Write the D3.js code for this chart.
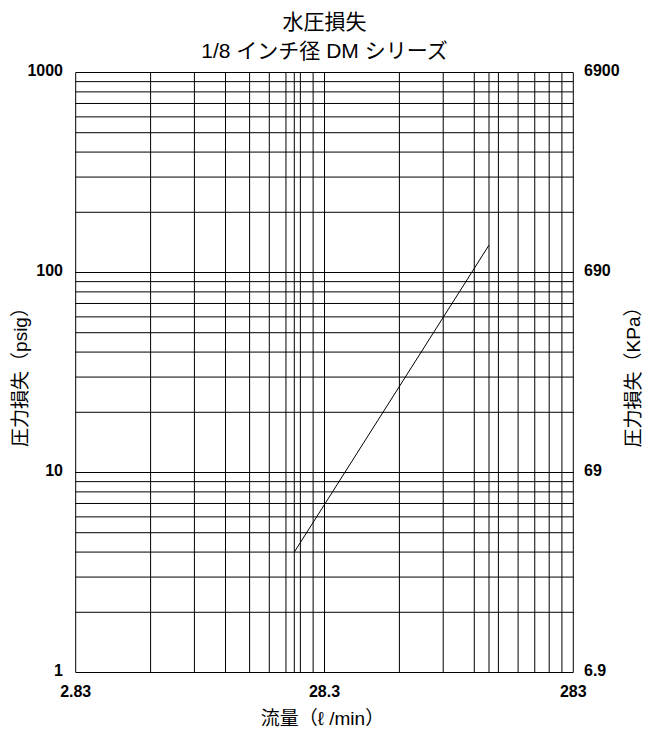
<!DOCTYPE html>
<html>
<head>
<meta charset="utf-8">
<script src="https://cdn.jsdelivr.net/npm/d3@7"></script>
<style>
  html, body { margin: 0; padding: 0; background: #fff; }
  svg text { font-family: "Liberation Sans", Arial, "Noto Sans CJK JP", sans-serif; }
</style>
</head>
<body>
<svg id="chart" width="659" height="729"></svg>
<script>
// ---- data ----
const flowLpm = [21.4, 129.7];        // l/min
const pressurePsig = [4, 137];        // psig
const xTickValues = [2.83, 28.3, 283];
const xTickLabels = ["2.83", "28.3", "283"];
const yTickValues = [1, 10, 100, 1000];
const yLeftLabels = ["1", "10", "100", "1000"];
const yRightLabels = ["6.9", "69", "690", "6900"];
const titleLines = ["水圧損失", "1/8 インチ径 DM シリーズ"];
const xTitle = "流量（ℓ /min）";
const yLeftTitle = "圧力損失（psig）";
const yRightTitle = "圧力損失（KPa）";

// ---- layout ----
const W = 659, H = 729;
const plot = { left: 75.7, right: 573.3, top: 72.5, bottom: 672.5 };
const svg = d3.select("#chart");

const x = d3.scaleLog().domain([2.83, 283]).range([plot.left, plot.right]);
const y = d3.scaleLog().domain([1, 1000]).range([plot.bottom, plot.top]);

// grid values: 1..10 multiples within each decade
const xGrid = [];
[2.83, 28.3].forEach(b => { for (let k = 1; k <= 10; k++) xGrid.push(b * k); });
flowLpm.forEach(v => xGrid.push(v)); // reference lines at curve ends
const yGrid = [];
[1, 10, 100].forEach(b => { for (let k = 1; k <= 10; k++) yGrid.push(b * k); });

const g = svg.append("g");
g.selectAll("line.vg").data(xGrid).join("line")
  .attr("x1", d => x(d)).attr("x2", d => x(d))
  .attr("y1", y(1)).attr("y2", y(1000))
  .attr("stroke", "#000").attr("stroke-width", 1);
g.selectAll("line.hg").data(yGrid).join("line")
  .attr("y1", d => y(d)).attr("y2", d => y(d))
  .attr("x1", x(2.83)).attr("x2", x(283))
  .attr("stroke", "#000").attr("stroke-width", 1);

// curve
const pts = flowLpm.map((f, i) => [f, pressurePsig[i]]);
svg.append("path").datum(pts)
  .attr("fill", "none").attr("stroke", "#000").attr("stroke-width", 1)
  .attr("d", d3.line().x(d => x(d[0])).y(d => y(d[1])));

// tick labels
svg.selectAll("text.yl").data(yTickValues).join("text")
  .attr("x", 63).attr("y", d => y(d) + 3)
  .attr("text-anchor", "end").attr("font-size", 16).attr("font-weight", "bold")
  .text((d, i) => yLeftLabels[i]);
svg.selectAll("text.yr").data(yTickValues).join("text")
  .attr("x", 584).attr("y", d => y(d) + 3)
  .attr("text-anchor", "start").attr("font-size", 16).attr("font-weight", "bold")
  .text((d, i) => yRightLabels[i]);
svg.selectAll("text.xl").data(xTickValues).join("text")
  .attr("x", d => x(d)).attr("y", 697)
  .attr("text-anchor", "middle").attr("font-size", 16).attr("font-weight", "bold")
  .text((d, i) => xTickLabels[i]);

// titles
const cx = (plot.left + plot.right) / 2;
svg.selectAll("text.title").data(titleLines).join("text")
  .attr("x", cx).attr("y", (d, i) => 29 + i * 29)
  .attr("text-anchor", "middle").attr("font-size", 21)
  .text(d => d);
svg.append("text")
  .attr("x", cx - 2).attr("y", 725)
  .attr("text-anchor", "middle").attr("font-size", 19)
  .text(xTitle);
const cy = (plot.top + plot.bottom) / 2;
svg.append("text")
  .attr("transform", `translate(27, ${cy}) rotate(-90)`)
  .attr("text-anchor", "middle").attr("font-size", 19)
  .text(yLeftTitle);
svg.append("text")
  .attr("transform", `translate(640, ${cy}) rotate(-90)`)
  .attr("text-anchor", "middle").attr("font-size", 19)
  .text(yRightTitle);
</script>
</body>
</html>
